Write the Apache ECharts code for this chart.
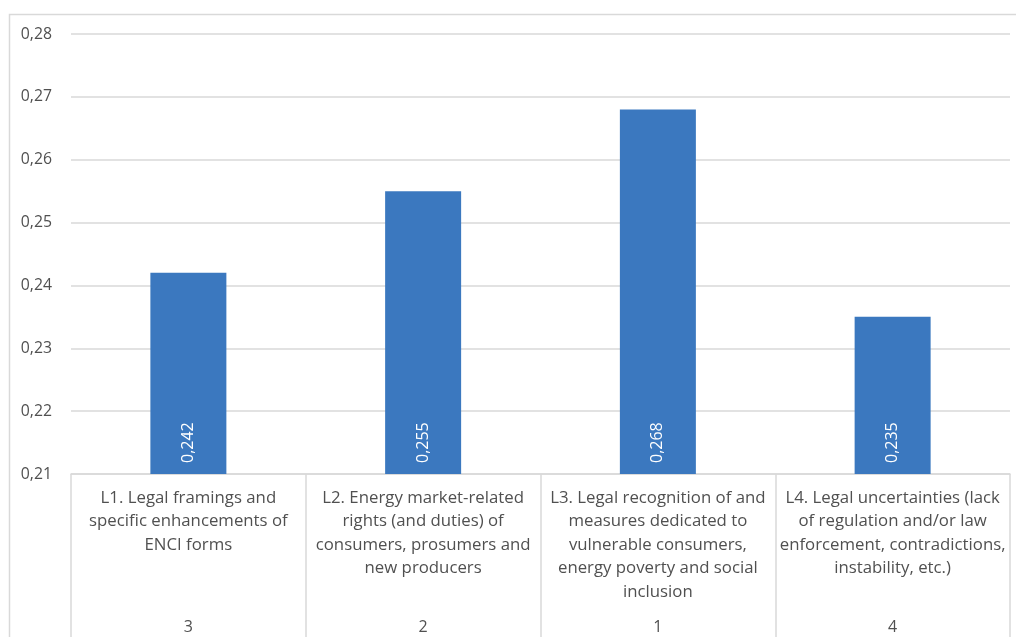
<!DOCTYPE html>
<html>
<head>
<meta charset="utf-8">
<script src="https://cdn.jsdelivr.net/npm/echarts@6/dist/echarts.min.js"></script>
<style>
  html, body { margin: 0; padding: 0; background: #ffffff; }
  #chart { width: 1016px; height: 637px; }
</style>
</head>
<body>
<div id="chart"></div>
<script>
// Category labels (explicit line breaks), ranks and scores
const categories = [
  'L1. Legal framings and\nspecific enhancements of\nENCI forms',
  'L2. Energy market-related\nrights (and duties) of\nconsumers, prosumers and\nnew producers',
  'L3. Legal recognition of and\nmeasures dedicated to\nvulnerable consumers,\nenergy poverty and social\ninclusion',
  'L4. Legal uncertainties (lack\nof regulation and/or law\nenforcement, contradictions,\ninstability, etc.)'
];
const ranks = ['3', '2', '1', '4'];
const scores = [0.242, 0.255, 0.268, 0.235];

const FONT = '"Open Sans"';
const TEXT = '#505050';
const LINE = '#D9D9D9';
const WEIGHT = 500;
const comma = v => v.toString().replace('.', ',');

const chart = echarts.init(document.getElementById('chart'), null, { renderer: 'canvas' });
chart.setOption({
  animation: false,
  textStyle: { fontFamily: FONT },
  grid: { left: 71, right: 6, top: 34, bottom: 163, containLabel: false },
  graphic: [{
    type: 'rect',
    silent: true,
    shape: { x: 9.5, y: 14.5, width: 1100, height: 700 },
    style: { fill: 'none', stroke: LINE, lineWidth: 1.5 }
  }],
  xAxis: [{
    type: 'category',
    data: categories,
    position: 'bottom',
    axisLine: { show: true, lineStyle: { color: LINE, width: 1.5 } },
    axisTick: { show: true, length: 200, lineStyle: { color: LINE, width: 1.5 } },
    axisLabel: {
      interval: 0,
      margin: 12,
      color: TEXT,
      fontSize: 16.8,
      fontWeight: WEIGHT,
      fontFamily: FONT,
      lineHeight: 23.5,
      verticalAlign: 'top',
      align: 'center'
    }
  }, {
    type: 'category',
    data: ranks,
    position: 'bottom',
    axisLine: { show: false },
    axisTick: { show: false },
    axisLabel: {
      interval: 0,
      margin: 145,
      color: TEXT,
      fontSize: 16,
      fontWeight: WEIGHT,
      fontFamily: FONT,
      verticalAlign: 'top'
    }
  }],
  yAxis: {
    type: 'value',
    min: 0.21,
    max: 0.28,
    interval: 0.01,
    axisLine: { show: false },
    axisTick: { show: false },
    splitLine: { lineStyle: { color: LINE, width: 1.5 } },
    axisLabel: {
      margin: 19,
      color: TEXT,
      fontSize: 15.8,
      fontWeight: WEIGHT,
      fontFamily: FONT,
      formatter: v => comma(+v.toFixed(2))
    }
  },
  series: [{
    type: 'bar',
    data: scores,
    xAxisIndex: 0,
    barWidth: 76,
    itemStyle: { color: '#3B78BF' },
    label: {
      show: true,
      position: 'insideBottom',
      rotate: 90,
      align: 'left',
      verticalAlign: 'middle',
      distance: 11,
      color: '#ffffff',
      fontSize: 16,
      fontWeight: WEIGHT,
      fontFamily: FONT,
      formatter: p => comma(p.value)
    }
  }]
});
</script>
</body>
</html>
